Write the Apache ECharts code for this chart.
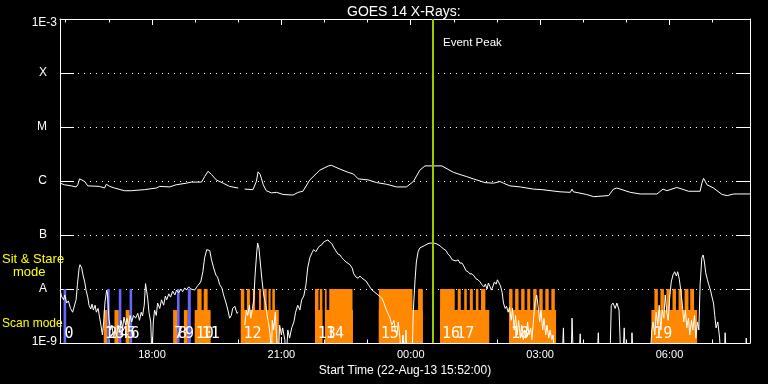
<!DOCTYPE html>
<html><head><meta charset="utf-8">
<script src="https://cdn.jsdelivr.net/npm/echarts@6/dist/echarts.min.js"></script>
<style>html,body{margin:0;padding:0;background:#000}#c{width:768px;height:384px}</style>
</head><body><div id="c"></div>
<script>
// ---------- data (time in hours since 22-Aug-13 00:00, flux as log10 W/m^2) ----------
const titleText = 'GOES 14 X-Rays:';
const xAxisName = 'Start Time (22-Aug-13 15:52:00)';
const timeMin = 15.8667, timeMax = 31.8667;
const majorTicks = [18, 21, 24, 27, 30];
const minorTicks = [16, 17, 18, 19, 20, 21, 22, 23, 24, 25, 26, 27, 28, 29, 30, 31];
const yTickValues = [-9, -8, -7, -6, -5, -4, -3];
const yTickLabels = ['1E-9', 'A', 'B', 'C', 'M', 'X', '1E-3'];
const eventPeakTime = 24.51;
const eventLabel = 'Event Peak';
const modeLabels = ['Sit & Stare', 'mode', 'Scan mode'];

const longChannel = [
[15.87,-6.04],[15.97,-6.07],[16.13,-6.09],[16.24,-6.11],[16.28,-6.07],[16.32,-5.96],[16.36,-5.95],[16.44,-6.01],[16.51,-6.09],[16.78,-6.10],
[16.90,-6.13],[16.94,-6.06],[17.02,-6.10],[17.13,-6.13],[17.36,-6.18],[17.52,-6.18],[17.83,-6.16],[17.87,-6.13],[18.10,-6.13],[18.18,-6.10],
[18.41,-6.11],[18.56,-6.07],[18.80,-6.04],[18.91,-6.02],[19.15,-6.02],[19.22,-5.92],[19.30,-5.82],[19.38,-5.88],[19.49,-5.98],[19.65,-6.04],
[19.80,-6.10],[20.00,-6.13],[20.07,null],[20.15,-6.15],[20.34,-6.16],[20.42,-6.01],[20.46,-5.83],[20.51,-5.88],[20.58,-6.07],[20.65,-6.18],
[20.77,-6.22],[20.89,-6.21],[21.04,-6.25],[21.27,-6.26],[21.39,-6.21],[21.50,-6.19],[21.66,-5.98],[21.89,-5.80],[22.09,-5.72],[22.16,-5.71],
[22.36,-5.78],[22.55,-5.84],[22.67,-5.87],[22.78,-5.96],[23.01,-5.98],[23.21,-6.03],[23.44,-6.06],[23.67,-6.11],[23.90,-6.11],[24.06,-6.01],
[24.21,-5.80],[24.33,-5.72],[24.72,-5.72],[24.99,-5.84],[25.30,-5.92],[25.45,-5.96],[25.72,-6.03],[25.92,-6.04],[26.07,-6.01],[26.15,-6.04],
[26.30,-6.09],[26.54,-6.11],[26.84,-6.15],[26.88,-6.12],[27.04,-6.16],[27.46,-6.20],[27.70,-6.21],[27.74,-6.15],[27.77,-6.20],[28.08,-6.25],
[28.24,-6.29],[28.59,-6.27],[28.70,-6.15],[28.78,-6.13],[29.09,-6.21],[29.32,-6.24],[29.71,-6.24],[29.85,-6.15],[29.94,-6.18],[30.17,-6.12],
[30.29,-6.15],[30.44,-6.19],[30.71,-6.19],[30.75,-6.04],[30.79,-5.95],[30.87,-6.07],[31.02,-6.13],[31.22,-6.25],[31.34,-6.27],[31.49,-6.24],
[31.57,-6.24],[31.87,-6.24]
];

const shortChannel = [
[15.87,-8.02],[15.90,-8.13],[15.95,-8.20],[15.98,-8.11],[16.02,-8.26],[16.06,-8.22],[16.11,-8.36],[16.16,-8.43],[16.20,-8.41],[16.24,-8.20],
[16.27,-7.92],[16.31,-7.61],[16.33,-7.55],[16.37,-7.61],[16.40,-7.74],[16.44,-7.87],[16.47,-8.02],[16.51,-8.15],[16.54,-8.30],[16.58,-8.37],
[16.61,-8.28],[16.64,-8.39],[16.68,-8.30],[16.71,-8.43],[16.75,-8.36],[16.78,-8.50],[16.82,-8.69],[16.85,-8.85],[16.88,-8.61],[16.91,-8.24],
[16.95,-8.02],[16.97,-8.11],[17.00,-8.54],[17.04,-8.76],[17.07,-8.67],[17.11,-8.91],[17.14,-8.76],[17.18,-8.87],[17.21,-8.67],[17.25,-8.80],
[17.28,-8.58],[17.32,-8.72],[17.35,-8.52],[17.39,-8.67],[17.42,-8.54],[17.46,-8.70],[17.49,-8.49],[17.53,-8.61],[17.57,-8.49],[17.62,-8.54],
[17.67,-8.45],[17.71,-8.58],[17.75,-8.43],[17.78,-8.50],[17.82,-8.30],[17.85,-7.90],[17.87,-7.87],[17.90,-8.17],[17.93,-8.43],[17.97,-8.61],
[18.00,-9.30],[18.03,-8.61],[18.06,-8.39],[18.10,-8.49],[18.13,-8.26],[18.18,-8.36],[18.22,-8.20],[18.27,-8.30],[18.31,-8.13],[18.34,-8.20],
[18.39,-8.09],[18.43,-8.15],[18.48,-8.04],[18.53,-8.11],[18.57,-8.02],[18.62,-8.07],[18.67,-8.00],[18.71,-8.05],[18.76,-7.98],[18.80,-8.02],
[18.85,-7.96],[18.90,-8.00],[18.94,-7.98],[18.99,-8.02],[19.04,-7.96],[19.08,-7.98],[19.13,-7.87],[19.18,-7.68],[19.22,-7.42],[19.27,-7.27],
[19.30,-7.24],[19.34,-7.29],[19.38,-7.46],[19.43,-7.61],[19.48,-7.74],[19.52,-7.78],[19.57,-7.92],[19.62,-7.98],[19.66,-8.11],[19.71,-8.24],
[19.76,-8.39],[19.80,-8.54],[19.84,-8.49],[19.87,-8.36],[19.92,-8.32],[19.97,-8.45],[20.00,-8.43],[20.07,null],[20.15,-8.67],[20.19,-8.39],
[20.22,-8.49],[20.26,-8.30],[20.29,-8.54],[20.33,-8.36],[20.36,-8.20],[20.39,-7.74],[20.43,-7.31],[20.45,-7.15],[20.48,-7.24],[20.51,-7.50],
[20.55,-7.83],[20.59,-8.11],[20.64,-8.30],[20.67,-8.49],[20.71,-8.67],[20.74,-8.85],[20.77,-9.30],[20.79,-8.58],[20.82,-8.76],[20.86,-8.43],
[20.89,-8.91],[20.93,-9.30],[20.96,-8.67],[21.00,-8.85],[21.03,-8.72],[21.08,-8.94],[21.11,-9.30],[21.15,-8.76],[21.19,-8.91],[21.24,-8.72],
[21.29,-8.61],[21.33,-8.43],[21.38,-8.30],[21.43,-8.39],[21.47,-8.20],[21.52,-8.13],[21.57,-7.92],[21.61,-7.61],[21.66,-7.42],[21.71,-7.33],
[21.75,-7.27],[21.80,-7.31],[21.85,-7.24],[21.89,-7.20],[21.94,-7.18],[21.98,-7.13],[22.03,-7.11],[22.08,-7.09],[22.12,-7.13],[22.17,-7.16],
[22.22,-7.24],[22.26,-7.27],[22.31,-7.35],[22.36,-7.37],[22.40,-7.42],[22.45,-7.46],[22.50,-7.50],[22.54,-7.50],[22.59,-7.55],[22.64,-7.61],
[22.68,-7.72],[22.73,-7.78],[22.78,-7.80],[22.82,-7.76],[22.87,-7.80],[22.91,-7.78],[22.96,-7.85],[23.01,-7.91],[23.05,-7.96],[23.10,-8.02],
[23.15,-8.05],[23.19,-8.05],[23.24,-8.11],[23.28,-8.09],[23.33,-8.17],[23.38,-8.26],[23.42,-8.36],[23.47,-8.45],[23.52,-8.54],[23.56,-8.67],
[23.61,-8.58],[23.64,-8.76],[23.68,-8.85],[23.71,-8.61],[23.75,-8.91],[23.78,-9.30],[23.82,-8.85],[23.85,-9.30],[23.89,-8.76],[23.92,-9.30],
[24.03,-9.30],[24.06,-8.39],[24.10,-7.83],[24.13,-7.50],[24.17,-7.31],[24.21,-7.24],[24.26,-7.22],[24.31,-7.20],[24.35,-7.18],[24.40,-7.16],
[24.45,-7.15],[24.49,-7.13],[24.54,-7.15],[24.59,-7.16],[24.63,-7.18],[24.68,-7.20],[24.73,-7.24],[24.77,-7.26],[24.82,-7.29],[24.86,-7.35],
[24.91,-7.39],[24.96,-7.46],[25.00,-7.44],[25.05,-7.48],[25.10,-7.46],[25.14,-7.52],[25.19,-7.52],[25.24,-7.59],[25.28,-7.66],[25.33,-7.68],
[25.37,-7.72],[25.42,-7.72],[25.47,-7.76],[25.51,-7.81],[25.56,-7.83],[25.61,-7.87],[25.65,-7.92],[25.70,-7.96],[25.73,-7.91],[25.77,-8.00],
[25.80,-7.89],[25.84,-7.96],[25.87,-8.02],[25.91,-7.94],[25.94,-7.87],[25.98,-7.91],[26.01,-7.83],[26.05,-7.81],[26.08,-7.94],[26.12,-8.07],
[26.15,-8.26],[26.19,-8.36],[26.22,-8.32],[26.26,-8.43],[26.29,-8.34],[26.33,-8.58],[26.36,-8.36],[26.40,-8.76],[26.43,-8.49],[26.47,-8.85],
[26.50,-8.58],[26.54,-8.91],[26.57,-8.67],[26.61,-8.94],[26.64,-8.76],[26.67,-8.91],[26.71,-8.61],[26.74,-8.85],[26.78,-8.72],[26.81,-8.94],
[26.85,-8.54],[26.88,-8.26],[26.92,-8.11],[26.95,-8.30],[26.99,-8.61],[27.02,-8.39],[27.06,-8.76],[27.09,-8.54],[27.13,-8.85],[27.16,-8.67],
[27.20,-8.91],[27.23,-8.76],[27.27,-8.94],[27.30,-8.85],[27.34,-9.30],[27.51,-9.30],[27.54,-8.72],[27.56,-9.30],[27.72,-9.30],[27.74,-8.54],
[27.77,-9.30],[27.90,-9.30],[27.93,-8.83],[27.95,-9.30],[28.32,-9.30],[28.35,-8.81],[28.37,-9.30],[28.62,-9.30],[28.65,-8.30],[28.69,-8.26],
[28.74,-8.36],[28.78,-8.26],[28.83,-8.39],[28.87,-9.30],[28.92,-9.30],[28.95,-8.72],[28.98,-9.30],[29.11,-9.30],[29.13,-8.81],[29.16,-9.30],
[29.55,-9.30],[29.59,-8.76],[29.62,-8.61],[29.66,-8.85],[29.69,-8.43],[29.73,-8.67],[29.76,-8.30],[29.80,-8.76],[29.83,-8.39],[29.87,-8.54],
[29.90,-8.11],[29.94,-8.45],[29.97,-8.58],[30.00,-8.20],[30.04,-7.87],[30.08,-7.74],[30.12,-7.68],[30.16,-7.76],[30.19,-7.68],[30.23,-7.83],
[30.26,-8.02],[30.30,-8.30],[30.33,-8.61],[30.37,-8.39],[30.40,-8.72],[30.44,-8.54],[30.47,-8.85],[30.51,-8.58],[30.54,-8.76],[30.58,-8.49],
[30.61,-8.91],[30.65,-8.61],[30.68,-8.76],[30.71,-7.92],[30.75,-7.42],[30.78,-7.37],[30.81,-7.50],[30.84,-7.70],[30.88,-7.83],[30.91,-7.92],
[30.95,-8.02],[30.98,-8.13],[31.02,-8.26],[31.05,-8.49],[31.08,-8.72],[31.12,-8.61],[31.16,-8.89],[31.19,-9.30],[31.27,-9.30],[31.29,-8.81],
[31.32,-9.30],[31.76,-9.30],[31.78,-8.91],[31.80,-9.30],[31.87,-9.30]
];

// observation timeline: [start, end] in hours
const stareLevel = -8.0;   // sit & stare bars reach the A level
const scanLevel = -8.39;   // scan-mode base height
const stareBars = [[15.95,16.01],[16.96,17.02],[17.23,17.29],[17.48,17.54],[18.58,18.64],[18.83,18.90]];
const scanBlocks = [[16.88,16.96],[17.13,17.23],[17.39,17.48],[18.49,18.58],[18.74,18.83],[18.99,19.36],[20.06,20.94],
  [21.78,21.95],[22.01,22.66],[23.26,24.28],[24.68,25.82],[26.28,27.37],[29.58,30.64]];
const scanRasters = [[19.05,19.15],[19.20,19.29],[20.06,20.14],[20.20,20.27],[20.34,20.39],[20.48,20.53],[20.59,20.66],
  [20.70,20.75],[20.79,20.85],[21.78,21.86],[21.89,21.95],[22.01,22.05],[22.11,22.65],[23.26,24.04],[24.17,24.28],
  [24.68,25.02],[25.09,25.16],[25.24,25.30],[25.37,25.44],[25.51,25.57],[25.63,25.73],[26.28,26.36],[26.42,26.50],
  [26.56,26.64],[26.70,26.77],[26.84,26.92],[26.98,27.06],[27.12,27.20],[27.26,27.34],[29.65,29.73],[29.79,29.87],
  [29.93,30.01],[30.07,30.15],[30.21,30.29],[30.35,30.44],[30.48,30.57]];
const obsNumbers = [0,1,2,3,4,5,6,7,8,9,10,11,12,13,14,15,16,17,18,19];
const obsStart = [15.95,16.88,16.96,17.13,17.23,17.39,17.48,18.49,18.58,18.74,18.99,19.13,20.10,21.82,22.01,23.28,24.70,25.03,26.30,29.62];

// ---------- chart ----------
const WHITE = '#ffffff';
const ORANGE = '#ff8800';
const BLUE = '#6666ff';
const LIME = '#9acd00';
const FONT = 'Liberation Sans';

function rectRender(color) {
  return function (params, api) {
    const p0 = api.coord([api.value(0), api.value(2)]);
    const p1 = api.coord([api.value(1), -9]);
    return { type: 'rect', shape: { x: p0[0], y: p0[1], width: p1[0] - p0[0], height: p1[1] - p0[1] },
             style: { fill: color } };
  };
}
function clock(v) { return String(Math.round(v) % 24).padStart(2, '0') + ':00'; }
function tickSet(pos, values, len, withLine) {
  return {
    type: 'value', min: timeMin, max: timeMax, position: pos,
    axisLine: { show: withLine, lineStyle: { color: WHITE, width: 1 } },
    axisTick: { show: true, inside: true, length: len, customValues: values, lineStyle: { color: WHITE, width: 1 } },
    axisLabel: { show: false }, splitLine: { show: false }
  };
}

const chart = echarts.init(document.getElementById('c'));
const xMain = tickSet('bottom', majorTicks, 6, true);
xMain.axisLabel = { show: true, customValues: majorTicks, formatter: clock, color: WHITE,
  fontFamily: FONT, fontSize: 11, margin: 6 };
xMain.name = xAxisName; xMain.nameLocation = 'middle'; xMain.nameGap = 19;
xMain.nameTextStyle = { color: WHITE, fontFamily: FONT, fontSize: 12 };

const rs = { color: WHITE, fontFamily: FONT, fontSize: 12 };
const option = {
  backgroundColor: '#000000',
  animation: false,
  title: { text: titleText, left: 342, top: 0,
    textStyle: { color: WHITE, fontFamily: FONT, fontSize: 14, fontWeight: 'normal' } },
  grid: { left: 60, top: 19, width: 690, height: 324 },
  xAxis: [xMain, tickSet('bottom', minorTicks, 3.5, false), tickSet('top', majorTicks, 6, true), tickSet('top', minorTicks, 3.5, false)],
  yAxis: [
    { type: 'value', min: -9, max: -3, interval: 1, position: 'left',
      axisLine: { show: true, lineStyle: { color: WHITE, width: 1 } },
      axisTick: { show: true, inside: true, length: 14, lineStyle: { color: WHITE } },
      axisLabel: { show: true, margin: 3, color: WHITE, fontFamily: FONT, fontSize: 12,
        formatter: function (v) {
          const i = yTickValues.indexOf(Math.round(v));
          const t = yTickLabels[i];
          if (i === yTickValues.length - 1) return '{sp|  }\n{n|' + t + '}';
          if (i === 0) return '{n|' + t + '}\n{sp2|  }';
          return '{let|' + t + '}';
        },
        rich: { n: Object.assign({ lineHeight: 14 }, rs),
                sp: { fontSize: 2, lineHeight: 7 },
                sp2: { fontSize: 2, lineHeight: 2 },
                let: Object.assign({ padding: [0, 10, 0, 0] }, rs) } },
      splitLine: { show: true, lineStyle: { color: WHITE, width: 1, type: [1, 5] } } },
    { type: 'value', min: -9, max: -3, interval: 1, position: 'right',
      axisLine: { show: true, lineStyle: { color: WHITE, width: 1 } },
      axisTick: { show: true, inside: true, length: 14, lineStyle: { color: WHITE } },
      axisLabel: { show: false }, splitLine: { show: false } }
  ],
  series: [
    { type: 'custom', silent: true, z: 1, renderItem: rectRender(ORANGE), encode: { x: [0, 1], y: 2 },
      data: scanBlocks.map(d => [d[0], d[1], scanLevel]) },
    { type: 'custom', silent: true, z: 1, renderItem: rectRender(ORANGE), encode: { x: [0, 1], y: 2 },
      data: scanRasters.map(d => [d[0], d[1], stareLevel]) },
    { type: 'custom', silent: true, z: 1, renderItem: rectRender(BLUE), encode: { x: [0, 1], y: 2 },
      data: stareBars.map(d => [d[0], d[1], stareLevel]) },
    { type: 'custom', silent: true, z: 4, encode: { x: 0, y: 1 },
      data: obsStart.map((s, i) => [s, -8.81, obsNumbers[i]]),
      renderItem: function (params, api) {
        const p = api.coord([api.value(0), api.value(1)]);
        return { type: 'text', x: p[0] + 1, y: p[1] + 1,
          style: { text: String(api.value(2)), fill: WHITE, font: '15px "DejaVu Sans Mono"',
                   align: 'left', verticalAlign: 'middle' } };
      } },
    { type: 'line', silent: true, z: 3, data: shortChannel, showSymbol: false, symbol: 'none', connectNulls: false,
      lineStyle: { color: WHITE, width: 1 }, clip: true },
    { type: 'line', silent: true, z: 3, data: longChannel, showSymbol: false, symbol: 'none', connectNulls: false,
      lineStyle: { color: WHITE, width: 1 }, clip: true,
      markLine: { silent: true, symbol: 'none', label: { show: false }, z: 5,
        lineStyle: { color: LIME, width: 2, type: 'solid' }, data: [{ xAxis: eventPeakTime }] } }
  ],
  graphic: [
    { type: 'text', x: 443, y: 43, style: { text: eventLabel, fill: WHITE, font: '11.5px "Liberation Sans"', verticalAlign: 'middle' } },
    { type: 'text', x: 2, y: 259, style: { text: modeLabels[0], fill: '#ffff00', font: '13px "Liberation Sans"', verticalAlign: 'middle' } },
    { type: 'text', x: 13, y: 272, style: { text: modeLabels[1], fill: '#ffff00', font: '13px "Liberation Sans"', verticalAlign: 'middle' } },
    { type: 'text', x: 2, y: 324, style: { text: modeLabels[2], fill: '#ffff00', font: '12px "Liberation Sans"', verticalAlign: 'middle' } }
  ]
};
chart.setOption(option);
</script>
</body></html>
